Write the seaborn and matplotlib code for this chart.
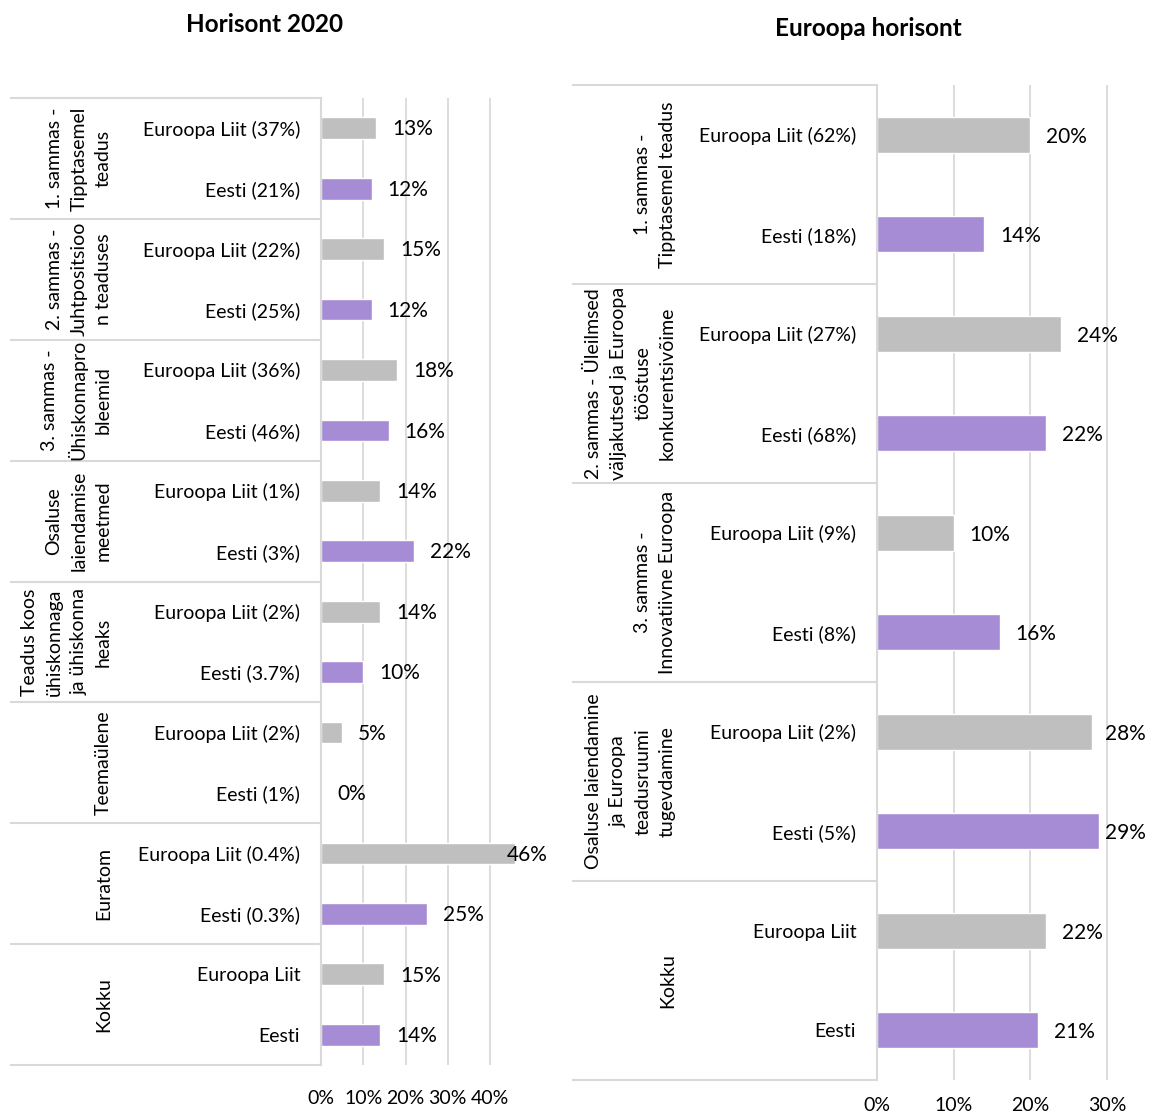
import matplotlib
matplotlib.use("Agg")
import matplotlib.pyplot as plt
import seaborn as sns
import pandas as pd
from matplotlib.transforms import blended_transform_factory
from matplotlib.ticker import PercentFormatter

sns.set_theme(style="white")
plt.rcParams['font.family'] = ['Lato', 'DejaVu Sans']

# ---------------- data ----------------
series_names = ["Euroopa Liit", "Eesti"]

h20_title = "Horisont 2020"
h20_groups = ["1. sammas -\nTipptasemel\nteadus",
              "2. sammas -\nJuhtpositsioo\nn teaduses",
              "3. sammas -\nÜhiskonnapro\nbleemid",
              "Osaluse\nlaiendamise\nmeetmed",
              "Teadus koos\nühiskonnaga\nja ühiskonna\nheaks",
              "Teemaülene",
              "Euratom",
              "Kokku"]
h20_eu_labels = ["Euroopa Liit (37%)", "Euroopa Liit (22%)", "Euroopa Liit (36%)",
                 "Euroopa Liit (1%)", "Euroopa Liit (2%)", "Euroopa Liit (2%)",
                 "Euroopa Liit (0.4%)", "Euroopa Liit"]
h20_ee_labels = ["Eesti (21%)", "Eesti (25%)", "Eesti (46%)", "Eesti (3%)",
                 "Eesti (3.7%)", "Eesti (1%)", "Eesti (0.3%)", "Eesti"]
h20_eu = [0.13, 0.15, 0.18, 0.14, 0.14, 0.05, 0.46, 0.15]
h20_ee = [0.12, 0.12, 0.16, 0.22, 0.10, 0.00, 0.25, 0.14]
h20_ticks = [0.0, 0.1, 0.2, 0.3, 0.4]

he_title = "Euroopa horisont"
he_groups = ["1. sammas -\nTipptasemel teadus",
             "2. sammas - Üleilmsed\nväljakutsed ja Euroopa\ntööstuse\nkonkurentsivõime",
             "3. sammas -\nInnovatiivne Euroopa",
             "Osaluse laiendamine\nja Euroopa\nteadusruumi\ntugevdamine",
             "Kokku"]
he_eu_labels = ["Euroopa Liit (62%)", "Euroopa Liit (27%)", "Euroopa Liit (9%)",
                "Euroopa Liit (2%)", "Euroopa Liit"]
he_ee_labels = ["Eesti (18%)", "Eesti (68%)", "Eesti (8%)", "Eesti (5%)", "Eesti"]
he_eu = [0.20, 0.24, 0.10, 0.28, 0.22]
he_ee = [0.14, 0.22, 0.16, 0.29, 0.21]
he_ticks = [0.0, 0.1, 0.2, 0.3]

colors = {"Euroopa Liit": "#BFBFBF", "Eesti": "#A68CD5"}
GRID = "#D9D9D9"
FS = 14
VFS = 15

W, H = 1150, 1117
fig = plt.figure(figsize=(W / 100, H / 100), dpi=100)


def build_df(groups, eu_lab, ee_lab, eu, ee):
    rows = []
    for i, g in enumerate(groups):
        rows.append(dict(key=f"{i}-EU", label=eu_lab[i], value=eu[i], series="Euroopa Liit", group=i))
        rows.append(dict(key=f"{i}-EE", label=ee_lab[i], value=ee[i], series="Eesti", group=i))
    return pd.DataFrame(rows)


def panel(rect_px, xmax, ticks, df, groups, title, title_xy, table_left_px,
          glabel_right_px, tick_pad, label_clamp=None):
    x0, y0, x1, y1 = rect_px
    ax = fig.add_axes([x0 / W, 1 - y1 / H, (x1 - x0) / W, (y1 - y0) / H])
    sns.barplot(data=df, y="key", x="value", hue="series", palette=colors,
                order=list(df["key"]), dodge=False, width=0.36, saturation=1,
                ax=ax, legend=False)
    n = len(df)
    ax.set_xlim(0, xmax)
    ax.set_ylim(n - 0.5, -0.5)
    ax.set_xticks(ticks)
    ax.xaxis.set_major_formatter(PercentFormatter(1.0, decimals=0))
    ax.set_yticks(range(n))
    ax.set_yticklabels(df["label"], fontsize=FS, color="black")
    ax.tick_params(axis="y", length=0, pad=15)
    ax.tick_params(axis="x", length=0, pad=tick_pad, labelsize=FS, labelcolor="black")
    ax.set_xlabel("")
    ax.set_ylabel("")
    ax.xaxis.grid(True, color=GRID, lw=1.3)
    ax.set_axisbelow(True)
    for s in ["top", "right", "bottom"]:
        ax.spines[s].set_visible(False)
    ax.spines["left"].set_color(GRID)
    ax.spines["left"].set_linewidth(1.5)

    # value labels
    px_per_unit = (x1 - x0) / xmax
    pad = 16 / px_per_unit
    for i, (v) in enumerate(df["value"]):
        xv = v + pad
        if label_clamp is not None:
            xv = min(xv, label_clamp)
        ax.text(xv, i + 0.02, f"{v * 100:.0f}%", ha="left", va="center", fontsize=VFS,
                color="black", clip_on=False)

    # table lines and group labels
    tr = blended_transform_factory(fig.transFigure, ax.transData)
    ng = len(groups)
    for k in range(ng + 1):
        yb = 2 * k - 0.5
        ax.plot([table_left_px / W, x0 / W], [yb, yb], transform=tr, color=GRID,
                lw=1.5, clip_on=False, solid_capstyle="butt")
    for k, g in enumerate(groups):
        ax.text(glabel_right_px / W, 2 * k + 0.5, g, transform=tr, rotation=90,
                ha="right", va="center", multialignment="center",
                fontsize=FS, color="black", linespacing=1.55)
    fig.text(title_xy[0] / W, 1 - title_xy[1] / H, title, ha="center", va="center",
             fontsize=17.5, fontweight="bold", color="black")
    return ax


df1 = build_df(h20_groups, h20_eu_labels, h20_ee_labels, h20_eu, h20_ee)
panel((321, 98, 321 + 0.46 * 422.5, 1065), 0.46, h20_ticks, df1, h20_groups,
      h20_title, (265, 25), 10, 112, 18, label_clamp=0.44)

df2 = build_df(he_groups, he_eu_labels, he_ee_labels, he_eu, he_ee)
panel((877, 85, 877 + 0.33 * 766.7, 1080), 0.33, he_ticks, df2, he_groups,
      he_title, (868, 28), 572, 676, 12, label_clamp=0.297)

fig.savefig("out.png", dpi=100)
